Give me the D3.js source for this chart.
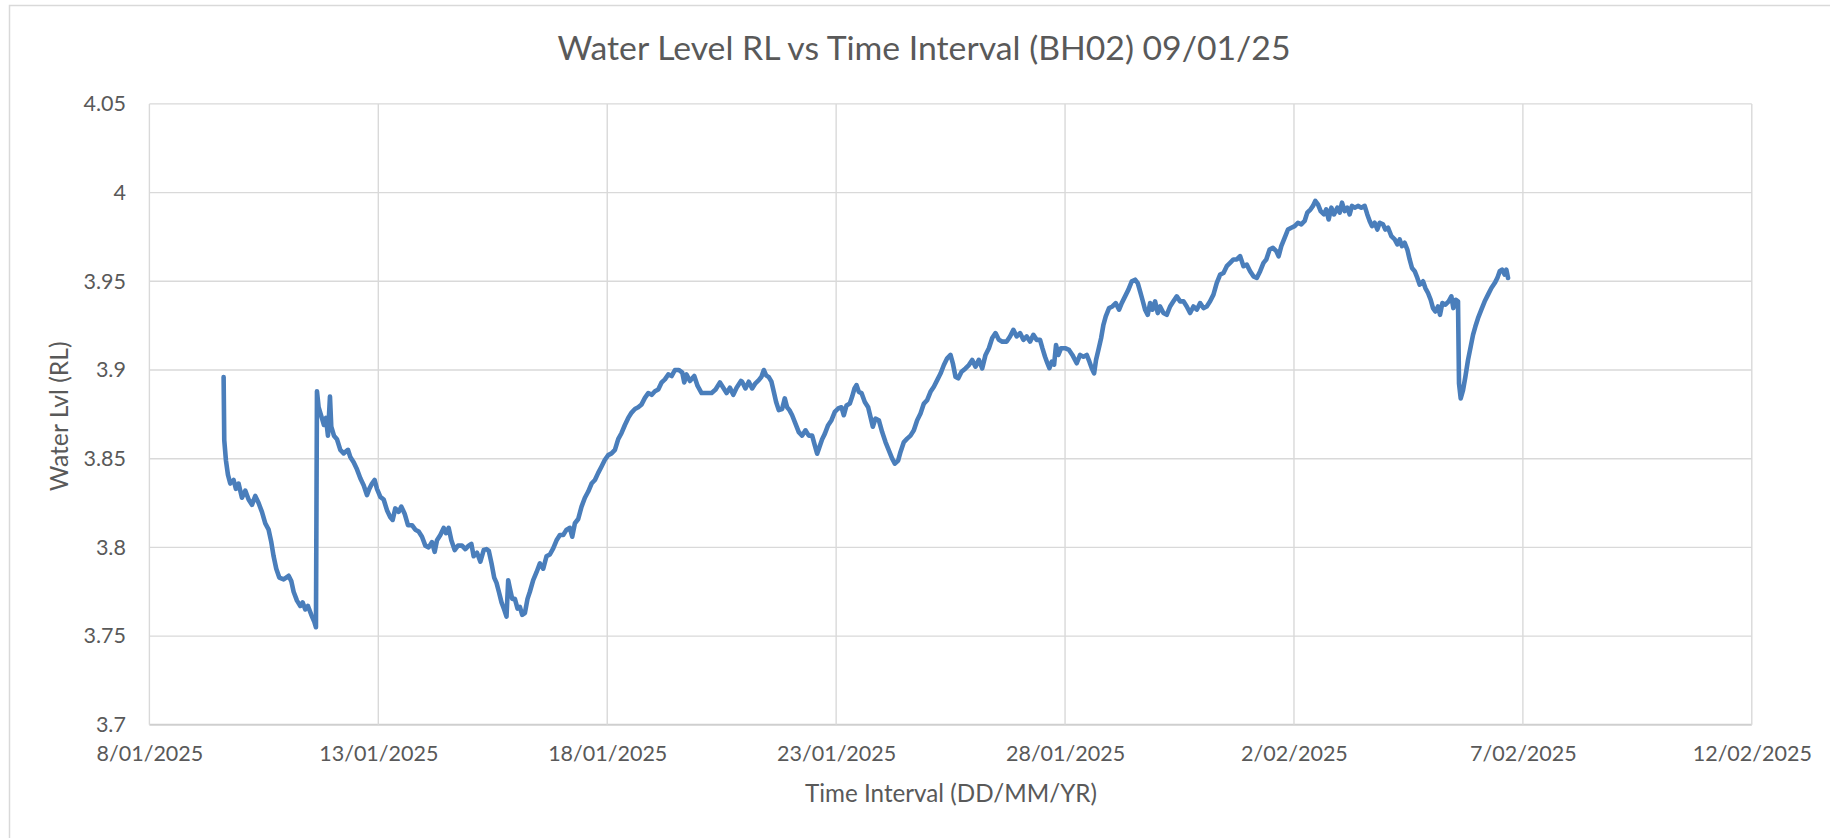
<!DOCTYPE html>
<html>
<head>
<meta charset="utf-8">
<script src="https://cdn.jsdelivr.net/npm/d3@7"></script>
<style>
  html, body { margin: 0; padding: 0; background: #ffffff; overflow: hidden; }
  svg { display: block; }
  text { font-family: Lato, "Noto Sans", "DejaVu Sans", sans-serif; fill: #595959; }
</style>
</head>
<body>
<svg id="chart" width="1830" height="838"></svg>
<script>
// ---------------- DATA ----------------
const chartTitle = "Water Level RL vs Time Interval (BH02) 09/01/25";
const xAxisTitle = "Time Interval (DD/MM/YR)";
const yAxisTitle = "Water Lvl (RL)";
const startDate = "2025-01-08";

const xTickDates = ["2025-01-08", "2025-01-13", "2025-01-18", "2025-01-23", "2025-01-28", "2025-02-02", "2025-02-07", "2025-02-12"];
const xTickLabels = ["8/01/2025", "13/01/2025", "18/01/2025", "23/01/2025", "28/01/2025", "2/02/2025", "7/02/2025", "12/02/2025"];
const yTickLabels = ["3.7", "3.75", "3.8", "3.85", "3.9", "3.95", "4", "4.05"];

// elapsed time since 8/01/2025 00:00, in days
const elapsedDays = [
  1.621,1.635,1.672,1.715,1.766,1.839,1.890,1.948,2.021,2.094,2.167,2.240,2.312,2.385,2.458,2.531,2.604,2.662,2.713,2.771,2.837,2.932,3.041,3.099,3.150,3.223,3.296,3.347,3.405,3.463,3.536,3.602,3.638,3.660,3.696,3.755,3.813,3.857,3.900,3.944,3.973,4.031,4.097,4.170,4.243,4.337,4.388,4.461,4.534,4.607,4.680,4.752,4.803,4.862,4.920,4.971,5.044,5.117,5.189,5.262,5.313,5.371,5.444,5.503,5.575,5.648,5.736,5.808,5.881,5.954,6.027,6.100,6.173,6.231,6.282,6.355,6.428,6.479,6.537,6.595,6.668,6.741,6.828,6.901,6.974,7.032,7.083,7.156,7.229,7.302,
  7.363,7.414,7.473,7.531,7.582,7.633,7.691,7.749,7.800,7.837,7.873,7.924,7.983,8.041,8.092,8.143,8.201,8.259,8.310,8.383,8.456,8.529,8.602,8.674,8.747,8.820,8.893,8.966,9.039,9.111,9.184,9.235,9.294,9.366,9.439,9.512,9.585,9.658,9.731,9.803,9.876,9.949,10.022,10.095,10.168,10.240,10.313,10.386,10.459,10.532,10.605,10.677,10.750,10.823,10.896,10.969,11.042,11.114,11.187,11.260,11.333,11.406,11.479,11.566,11.639,11.682,11.733,11.806,11.901,11.974,12.061,12.170,12.280,12.367,12.462,12.535,12.607,12.680,12.753,12.826,12.921,
  12.946,13.019,13.092,13.165,13.237,13.310,13.369,13.420,13.471,13.529,13.587,13.638,13.689,13.747,13.820,13.878,13.929,13.980,14.039,14.111,14.184,14.257,14.330,14.403,14.476,14.534,14.585,14.636,14.694,14.752,14.825,14.898,14.971,15.044,15.117,15.168,15.226,15.299,15.350,15.401,15.444,15.495,15.554,15.626,15.699,15.750,15.801,15.859,15.932,16.005,16.078,16.151,16.224,16.282,16.355,16.406,16.479,16.551,16.624,16.697,16.770,16.843,16.916,16.988,17.061,17.134,17.207,17.280,17.353,17.425,17.498,17.549,17.607,17.666,17.739,17.826,17.899,17.972,18.044,18.117,18.190,18.263,18.336,18.409,18.481,18.554,18.627,
  18.725,18.798,18.871,18.944,19.017,19.090,19.162,19.235,19.308,19.381,19.454,19.505,19.563,19.614,19.658,19.709,19.760,19.803,19.854,19.913,20.000,20.087,20.160,20.255,20.328,20.401,20.473,20.532,20.583,20.634,20.677,20.728,20.787,20.838,20.889,20.961,21.034,21.107,21.180,21.238,21.311,21.384,21.457,21.530,21.588,21.639,21.690,21.748,21.806,21.857,21.908,21.966,22.025,22.076,22.149,22.221,22.294,22.367,22.440,22.513,22.586,22.658,22.731,22.804,22.877,22.950,23.023,23.095,23.168,23.241,23.314,23.387,23.460,23.532,23.605,23.678,23.751,23.824,23.897,23.969,24.042,24.115,24.188,24.261,24.334,
  24.395,24.468,24.541,24.614,24.665,24.723,24.796,24.869,24.942,25.015,25.087,25.160,25.233,25.291,25.364,25.415,25.466,25.524,25.583,25.656,25.706,25.757,25.816,25.874,25.947,25.998,26.049,26.107,26.165,26.216,26.267,26.326,26.398,26.471,26.544,26.602,26.653,26.704,26.763,26.821,26.872,26.945,26.996,27.054,27.127,27.200,27.258,27.309,27.360,27.418,27.476,27.527,27.578,27.637,27.695,27.746,27.819,27.870,27.928,27.986,28.037,28.088,28.146,28.190,28.241,28.307,28.379,28.438,28.481,28.532,28.583,28.605,28.642,28.693,28.744,28.802,28.860,28.911,28.962,29.020,29.093,29.166,29.239,29.312,29.385,29.443,29.494,29.545,29.603,29.639,29.676
];

// water level RL readings
const waterLevel = [
  3.896,3.8605,3.849,3.841,3.836,3.838,3.833,3.836,3.828,3.832,3.827,3.824,3.829,3.825,3.820,3.8135,3.810,3.803,3.795,3.788,3.783,3.782,3.784,3.781,3.775,3.770,3.767,3.769,3.765,3.767,3.762,3.758,3.755,3.888,3.879,3.874,3.869,3.873,3.863,3.885,3.868,3.863,3.861,3.855,3.853,3.855,3.851,3.848,3.844,3.839,3.835,3.8295,3.833,3.836,3.838,3.833,3.8285,3.827,3.821,3.817,3.8155,3.822,3.820,3.823,3.819,3.8125,3.8125,3.810,3.809,3.806,3.801,3.800,3.803,3.7975,3.804,3.807,3.811,3.808,3.811,3.804,3.7985,3.801,3.801,3.799,3.801,3.802,3.795,3.797,3.792,3.7985,
  3.799,3.798,3.791,3.783,3.780,3.775,3.769,3.765,3.761,3.7815,3.777,3.771,3.771,3.7655,3.7665,3.762,3.763,3.771,3.775,3.7815,3.786,3.791,3.788,3.795,3.796,3.7995,3.804,3.807,3.807,3.810,3.811,3.806,3.8136,3.816,3.823,3.828,3.8315,3.836,3.838,3.842,3.8456,3.8494,3.852,3.853,3.855,3.861,3.8645,3.869,3.873,3.876,3.878,3.879,3.8806,3.8843,3.887,3.886,3.888,3.889,3.893,3.8947,3.8975,3.8966,3.900,3.900,3.8985,3.893,3.8975,3.8938,3.8966,3.891,3.887,3.887,3.887,3.889,3.893,3.890,3.887,3.890,3.886,3.890,3.8938,
  3.8934,3.8896,3.8934,3.8896,3.8925,3.8943,3.8962,3.900,3.897,3.896,3.8934,3.8877,3.882,3.8774,3.878,3.884,3.879,3.8774,3.8745,3.8698,3.865,3.863,3.866,3.863,3.863,3.8575,3.8528,3.8566,3.861,3.864,3.8689,3.8717,3.8764,3.8783,3.879,3.8745,3.880,3.8811,3.885,3.8896,3.8915,3.8877,3.887,3.882,3.879,3.8736,3.868,3.8726,3.8717,3.865,3.8594,3.8547,3.850,3.8472,3.849,3.8538,3.8594,3.8613,3.863,3.866,3.8717,3.8755,3.8811,3.883,3.8877,3.8906,3.8943,3.898,3.9028,3.9066,3.9085,3.9038,3.8962,3.8953,3.899,3.9009,3.9028,3.9057,3.9019,3.9057,3.9009,3.9085,3.9123,3.918,3.9208,3.917,3.916,
  3.916,3.9189,3.9226,3.9189,3.9208,3.917,3.9189,3.916,3.9198,3.917,3.917,3.9123,3.9075,3.9038,3.901,3.9047,3.903,3.9141,3.9085,3.9123,3.9123,3.9113,3.9085,3.9038,3.9085,3.9075,3.9085,3.9047,3.901,3.8981,3.9057,3.9113,3.9179,3.9255,3.9302,3.9349,3.9358,3.9377,3.934,3.9377,3.9415,3.9453,3.950,3.9509,3.949,3.9443,3.9396,3.934,3.9311,3.9377,3.934,3.9387,3.9321,3.9358,3.9321,3.9311,3.9358,3.9387,3.9415,3.9387,3.9387,3.9358,3.9321,3.9358,3.934,3.9377,3.9349,3.9358,3.9387,3.9425,3.9491,3.9538,3.9547,3.9585,3.9604,3.9623,3.9623,3.9642,3.9585,3.9594,3.9557,3.9528,3.9519,3.9557,3.9604,
  3.9623,3.9679,3.9689,3.967,3.9641,3.9698,3.9745,3.9792,3.9802,3.9811,3.983,3.9821,3.984,3.9887,3.9906,3.9925,3.9953,3.9934,3.9896,3.9877,3.9906,3.9849,3.9915,3.9877,3.9915,3.9887,3.9943,3.9896,3.9915,3.9877,3.9925,3.9915,3.9925,3.9915,3.9925,3.9877,3.984,3.9811,3.983,3.9792,3.983,3.9821,3.9792,3.9802,3.9755,3.9736,3.9708,3.9736,3.9698,3.9717,3.9679,3.9623,3.9575,3.9557,3.9519,3.9481,3.950,3.9462,3.9434,3.9396,3.9349,3.933,3.9358,3.9311,3.9377,3.9368,3.9387,3.9415,3.9349,3.9396,3.9387,3.8924,3.884,3.8887,3.8962,3.9057,3.9132,3.9198,3.9245,3.9292,3.934,3.9387,3.9425,3.9462,3.949,3.9519,3.9557,3.9566,3.9538,3.9566,3.9519
];

// ---------------- LAYOUT ----------------
const W = 1830, H = 838;
const plot = { left: 149.4, right: 1751.8, top: 103.9, bottom: 724.8 };
const DAY_MS = 86400000;
const parseDay = d3.utcParse("%Y-%m-%d");
const t0 = parseDay(startDate).getTime();

const series = elapsedDays.map((d, i) => ({ t: new Date(t0 + d * DAY_MS), v: waterLevel[i] }));
const xTicks = xTickDates.map(parseDay);
const yTicks = yTickLabels.map(Number);

const x = d3.scaleUtc().domain([xTicks[0], xTicks[xTicks.length - 1]]).range([plot.left, plot.right]);
const y = d3.scaleLinear().domain([yTicks[0], yTicks[yTicks.length - 1]]).range([plot.bottom, plot.top]);

const svg = d3.select("#chart");

// chart area border
svg.append("rect")
  .attr("x", 9.5).attr("y", 5.5)
  .attr("width", W + 10).attr("height", H + 10)
  .attr("fill", "#ffffff").attr("stroke", "#d9d9d9").attr("stroke-width", 1.5);

// gridlines
const grid = svg.append("g");
grid.selectAll("line.h").data(yTicks).join("line")
  .attr("class", "h")
  .attr("x1", plot.left).attr("x2", plot.right)
  .attr("y1", d => y(d)).attr("y2", d => y(d))
  .attr("stroke", (d, i) => i === 0 ? "#cfcfcf" : "#d9d9d9")
  .attr("stroke-width", (d, i) => i === 0 ? 2 : 1.4);
grid.selectAll("line.v").data(xTicks).join("line")
  .attr("class", "v")
  .attr("x1", d => x(d)).attr("x2", d => x(d))
  .attr("y1", plot.top).attr("y2", plot.bottom)
  .attr("stroke", "#d9d9d9").attr("stroke-width", 1.4);

// axes
const yAxis = d3.axisLeft(y).tickValues(yTicks).tickFormat((d, i) => yTickLabels[i]).tickSize(0).tickPadding(23.5);
const gy = svg.append("g").attr("transform", `translate(${plot.left},0)`).call(yAxis);
gy.select(".domain").remove();
gy.selectAll("text").attr("font-size", 21.5).attr("font-family", null).attr("fill", "#595959");

const xAxis = d3.axisBottom(x).tickValues(xTicks).tickFormat((d, i) => xTickLabels[i]).tickSize(0);
const gx = svg.append("g").attr("transform", `translate(0,${plot.bottom})`).call(xAxis);
gx.select(".domain").remove();
gx.selectAll("text").attr("y", 36.5).attr("dy", 0).attr("font-size", 21.5).attr("font-family", null).attr("fill", "#595959");
svg.selectAll(".tick text").style("font-family", "Lato, 'Noto Sans', sans-serif");

// line
const line = d3.line().x(d => x(d.t)).y(d => y(d.v)).curve(d3.curveLinear);
svg.append("path")
  .datum(series)
  .attr("fill", "none")
  .attr("stroke", "#4a7ebb")
  .attr("stroke-width", 4.6)
  .attr("stroke-linejoin", "round")
  .attr("stroke-linecap", "round")
  .attr("d", line);

// helper: fit text to a measured target width
function fitWidth(sel, target) {
  const w = sel.node().getComputedTextLength();
  const fs = parseFloat(sel.attr("font-size"));
  if (w > 0) sel.attr("font-size", (fs * target / w).toFixed(2));
}

// title
const title = svg.append("text")
  .attr("x", 924).attr("y", 60)
  .attr("text-anchor", "middle")
  .attr("font-size", 30)
  .text(chartTitle);
fitWidth(title, 733);

// x axis title
const xt = svg.append("text")
  .attr("x", 951).attr("y", 802)
  .attr("text-anchor", "middle")
  .attr("font-size", 21)
  .text(xAxisTitle);
fitWidth(xt, 292);

// y axis title
const yt = svg.append("text")
  .attr("transform", `translate(68,${(plot.top + plot.bottom) / 2 + 2}) rotate(-90)`)
  .attr("text-anchor", "middle")
  .attr("font-size", 21)
  .text(yAxisTitle);
fitWidth(yt, 150);
</script>
</body>
</html>
